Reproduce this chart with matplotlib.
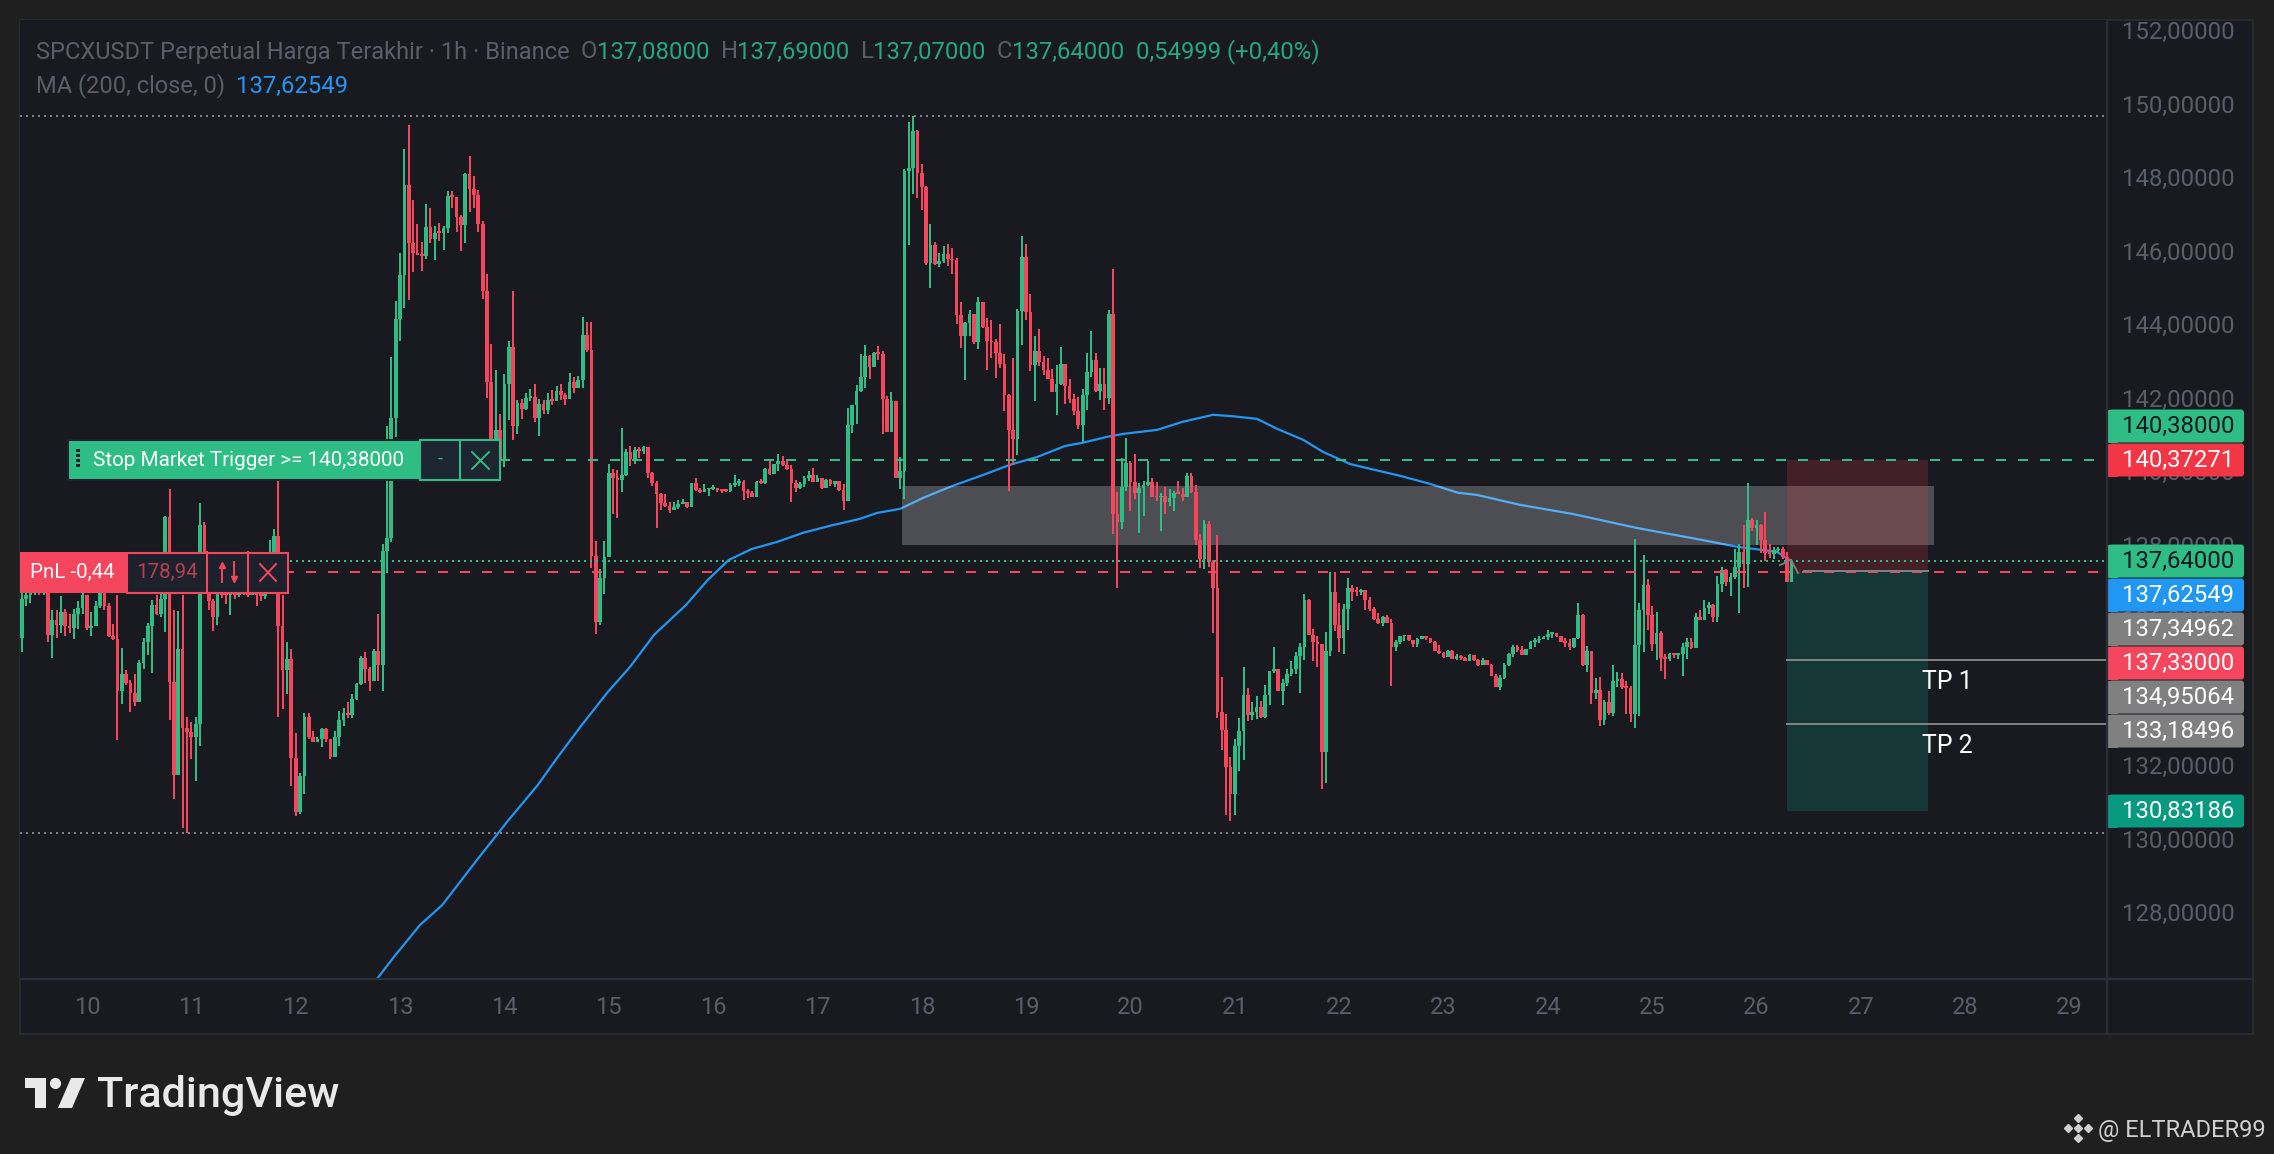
import matplotlib
matplotlib.use("Agg")
import matplotlib.pyplot as plt
import matplotlib.transforms as mtrans
import numpy as np
from matplotlib.patches import FancyBboxPatch, Polygon, Rectangle

plt.rcParams['font.family'] = ['Roboto', 'DejaVu Sans']

# hourly candles, one row per 24 hours, first candle is day 9 at 09:00
first_open = 135.55
closes = [
    136.6, 136.7, 136.8, 136.8, 136.75, 136.75, 135.62, 136.03, 135.88, 136.25, 135.85, 135.8, 136.2, 136.35, 136.7, 135.8, 135.85, 136.4, 136.75, 136.4, 135.6, 135.5, 134.1, 134.56,
    134.3, 134.05, 133.8, 134.87, 135.44, 135.87, 136.43, 136.2, 136.6, 138.82, 134.35, 131.8, 135.24, 133.1, 132.98, 132.85, 133.2, 138.6, 137.0, 136.55, 136.1, 136.75, 136.72, 136.7,
    136.75, 136.72, 136.78, 136.75, 136.72, 136.75, 136.7, 136.68, 136.8, 137.2, 138.3, 135.87, 134.67, 134.97, 132.27, 130.8, 131.78, 133.38, 132.85, 132.72, 132.8, 133.05, 132.78, 132.3,
    132.85, 133.3, 133.5, 133.43, 133.87, 134.28, 134.98, 134.7, 134.38, 135.18, 134.8, 137.9, 138.27, 141.51, 144.23, 145.41, 147.86, 146.29, 146.0, 145.97, 145.93, 146.71, 146.4, 146.57,
    146.55, 146.7, 147.56, 147.53, 146.98, 146.77, 148.16, 147.75, 147.59, 146.8, 144.98, 142.51, 140.3, 141.2, 140.4, 142.46, 143.45, 141.3, 141.92, 141.76, 142.06, 142.1, 141.53, 141.9,
    141.74, 142.01, 141.98, 142.27, 142.14, 142.05, 142.51, 142.35, 142.55, 143.78, 143.37, 137.78, 135.98, 137.18, 137.75, 140.02, 139.88, 139.83, 139.96, 140.6, 140.4, 140.65, 140.63, 140.74,
    140.04, 139.76, 139.46, 139.2, 139.12, 139.02, 139.1, 139.18, 139.25, 139.1, 139.75, 139.56, 139.5, 139.58, 139.6, 139.63, 139.57, 139.55, 139.53, 139.7, 139.75, 139.78, 139.54, 139.48,
    139.38, 139.79, 139.75, 140.14, 139.99, 140.26, 140.35, 140.24, 140.13, 139.76, 139.63, 139.72, 139.88, 139.98, 139.79, 139.88, 139.63, 139.83, 139.72, 139.8, 139.57, 139.26, 141.32, 141.88,
    142.26, 142.63, 143.21, 142.9, 143.3, 143.27, 142.05, 141.15, 141.98, 139.9, 140.08, 148.25, 148.32, 149.32, 148.18, 147.8, 145.74, 146.24, 145.72, 145.8, 145.99, 145.85, 145.81, 144.33,
    143.76, 144.1, 144.36, 143.58, 144.68, 143.99, 143.62, 143.58, 143.3, 143.0, 142.15, 141.2, 140.96, 144.44, 145.9, 144.41, 142.97, 143.34, 143.06, 142.83, 142.59, 142.24, 142.45, 143.0,
    142.4, 142.04, 141.72, 141.33, 142.15, 142.77, 143.1, 142.26, 142.45, 142.08, 144.36, 138.91, 138.7, 139.64, 140.31, 139.79, 139.48, 139.63, 139.71, 139.79, 139.38, 139.36, 139.4, 139.23,
    139.35, 139.48, 139.46, 139.36, 139.94, 139.5, 138.21, 137.7, 138.65, 137.6, 136.9, 133.53, 133.04, 132.04, 131.28, 132.59, 133.01, 133.98, 133.44, 133.53, 133.67, 133.39, 133.98, 134.63,
    134.68, 134.1, 134.3, 134.57, 134.7, 135.05, 135.29, 136.57, 135.63, 135.44, 135.36, 132.44, 135.18, 136.79, 135.9, 135.54, 136.33, 136.89, 136.8, 136.78, 136.84, 136.58, 136.33, 136.05,
    135.94, 136.12, 135.95, 135.3, 135.42, 135.58, 135.63, 135.47, 135.37, 135.52, 135.6, 135.53, 135.44, 135.18, 135.12, 135.03, 135.18, 134.97, 135.06, 135.0, 134.92, 135.07, 134.93, 134.79,
    134.94, 134.8, 134.51, 134.21, 134.46, 134.8, 135.1, 135.3, 135.2, 135.07, 135.25, 135.44, 135.47, 135.51, 135.57, 135.65, 135.67, 135.6, 135.44, 135.4, 135.3, 135.53, 136.16, 134.79,
    135.17, 134.05, 134.12, 133.3, 133.79, 133.5, 134.37, 134.41, 134.2, 134.17, 133.47, 135.35, 136.3, 136.98, 136.16, 135.37, 135.68, 134.98, 134.96, 135.09, 135.07, 135.11, 135.28, 135.44,
    135.27, 136.1, 136.03, 136.36, 136.43, 136.1, 137.0, 137.39, 137.05, 137.2, 137.48, 137.87, 137.55, 138.75, 138.54, 138.62, 138.2, 137.85, 137.82, 137.92, 137.97, 137.75, 137.07, 137.64,
]
highs = [
    137.0, 137.0, 137.0, 137.0, 137.0, 137.0, 136.8, 136.3, 136.3, 136.68, 136.33, 136.2, 136.33, 136.55, 136.8, 136.7, 136.25, 136.55, 136.8, 136.8, 136.5, 135.92, 136.7, 135.27,
    134.67, 134.4, 134.57, 134.93, 135.53, 135.95, 136.57, 136.7, 136.75, 138.85, 139.6, 136.3, 136.27, 136.7, 133.4, 133.25, 133.4, 139.2, 138.7, 137.1, 136.6, 136.9, 136.9, 137.0,
    137.0, 137.0, 137.0, 137.0, 137.0, 137.0, 137.0, 137.2, 137.4, 138.2, 138.5, 140.0, 136.7, 135.42, 135.24, 132.95, 131.85, 133.5, 133.5, 133.0, 132.85, 133.1, 133.1, 132.8,
    133.0, 133.55, 133.62, 133.8, 134.0, 134.3, 135.05, 135.15, 134.76, 135.24, 136.2, 138.1, 141.3, 143.19, 144.7, 146.0, 148.84, 149.49, 147.45, 146.8, 146.31, 147.34, 147.25, 146.75,
    146.82, 146.74, 147.7, 147.7, 147.53, 147.06, 148.2, 148.65, 148.1, 147.72, 146.88, 145.44, 143.55, 142.83, 141.63, 142.73, 143.62, 144.98, 142.0, 142.03, 142.2, 142.3, 142.46, 142.03,
    142.02, 142.2, 142.28, 142.39, 142.45, 142.2, 142.75, 142.65, 142.66, 144.28, 144.13, 144.14, 138.17, 137.41, 138.17, 140.26, 140.13, 140.1, 141.24, 140.68, 140.76, 140.74, 140.74, 140.76,
    140.74, 140.06, 139.8, 139.49, 139.45, 139.25, 139.24, 139.28, 139.32, 139.25, 139.76, 139.88, 139.62, 139.73, 139.62, 139.69, 139.63, 139.6, 139.6, 139.75, 139.97, 139.85, 139.83, 139.58,
    139.54, 139.82, 139.86, 140.17, 140.36, 140.27, 140.55, 140.49, 140.38, 140.24, 139.84, 139.77, 139.95, 140.09, 140.17, 139.97, 139.9, 139.85, 139.85, 139.82, 139.8, 139.73, 141.79, 141.88,
    142.42, 143.26, 143.51, 143.25, 143.31, 143.48, 143.35, 142.12, 142.22, 141.98, 140.45, 148.3, 149.57, 149.74, 149.36, 148.44, 147.84, 146.8, 146.3, 146.0, 146.2, 146.26, 146.15, 145.87,
    144.68, 144.13, 144.47, 144.36, 144.82, 144.68, 144.24, 144.2, 143.67, 144.08, 143.27, 142.18, 143.16, 144.49, 146.48, 146.26, 144.9, 143.76, 143.95, 143.2, 143.16, 142.85, 142.97, 143.45,
    143.0, 142.59, 142.18, 142.09, 142.3, 143.3, 143.9, 143.3, 142.88, 142.88, 144.47, 145.57, 139.5, 140.44, 140.97, 140.34, 140.54, 139.76, 139.81, 140.36, 139.89, 139.79, 139.48, 139.64,
    139.6, 139.53, 139.82, 139.63, 140.03, 140.03, 139.7, 138.38, 138.75, 138.72, 137.67, 138.33, 134.48, 133.48, 132.31, 132.79, 133.37, 134.75, 134.18, 133.8, 133.95, 133.83, 134.27, 134.64,
    135.29, 134.7, 134.42, 134.7, 134.9, 135.15, 135.41, 136.73, 136.61, 135.78, 135.59, 135.38, 135.71, 137.32, 137.34, 136.49, 136.47, 137.16, 136.98, 136.93, 136.87, 136.84, 136.66, 136.39,
    136.21, 136.14, 136.15, 136.05, 135.48, 135.58, 135.63, 135.63, 135.49, 135.53, 135.6, 135.6, 135.53, 135.45, 135.34, 135.16, 135.2, 135.21, 135.1, 135.07, 135.02, 135.1, 135.07, 134.96,
    134.99, 134.95, 134.83, 134.56, 134.53, 134.85, 135.12, 135.35, 135.35, 135.32, 135.25, 135.45, 135.53, 135.58, 135.6, 135.76, 135.7, 135.67, 135.6, 135.55, 135.51, 135.54, 136.48, 136.2,
    135.32, 135.17, 134.44, 134.48, 133.84, 134.1, 134.8, 134.62, 134.58, 134.38, 134.23, 138.23, 136.48, 137.8, 137.14, 136.4, 136.25, 135.74, 135.09, 135.14, 135.1, 135.13, 135.41, 135.53,
    135.53, 136.21, 136.3, 136.57, 136.52, 136.46, 137.22, 137.48, 137.41, 137.3, 137.95, 138.09, 138.61, 139.75, 138.8, 138.75, 138.65, 138.96, 138.1, 138.0, 138.0, 138.0, 137.87, 137.69,
]
lows = [
    135.15, 136.4, 136.5, 136.7, 136.7, 136.7, 135.42, 135.0, 135.55, 135.67, 135.6, 135.67, 135.5, 135.78, 136.2, 135.75, 135.6, 135.85, 136.35, 136.3, 135.57, 135.48, 132.75, 133.75,
    134.27, 133.53, 133.7, 133.8, 134.7, 135.07, 134.58, 136.15, 136.1, 135.7, 133.3, 131.15, 131.8, 130.36, 130.24, 132.25, 131.65, 132.6, 136.9, 136.3, 135.74, 135.88, 136.62, 136.45,
    136.15, 136.6, 136.65, 136.7, 136.65, 136.7, 136.4, 136.55, 136.6, 136.9, 137.0, 133.4, 133.6, 134.0, 131.5, 130.7, 130.75, 131.3, 132.8, 132.7, 132.7, 132.58, 132.7, 132.25,
    132.3, 132.6, 133.13, 133.35, 133.35, 133.85, 134.25, 134.3, 134.1, 134.38, 134.38, 134.1, 137.3, 138.16, 141.0, 143.63, 144.52, 144.73, 145.5, 145.96, 145.53, 145.86, 146.29, 145.82,
    146.35, 146.09, 146.56, 147.25, 146.58, 146.07, 146.28, 147.13, 147.25, 146.58, 144.76, 142.07, 139.9, 140.2, 140.2, 140.2, 141.47, 140.92, 141.09, 141.5, 141.74, 141.98, 141.42, 141.04,
    141.63, 141.63, 141.87, 141.98, 142.0, 141.87, 142.04, 142.19, 142.34, 142.33, 143.32, 137.45, 135.64, 135.89, 136.73, 137.73, 138.91, 138.8, 139.51, 139.94, 140.23, 140.27, 140.43, 140.54,
    139.88, 139.68, 138.54, 139.02, 139.09, 138.93, 139.02, 139.05, 139.18, 139.07, 139.1, 139.55, 139.49, 139.5, 139.41, 139.56, 139.5, 139.49, 139.5, 139.5, 139.65, 139.68, 139.29, 139.34,
    139.37, 139.37, 139.73, 139.73, 139.97, 139.99, 140.08, 140.22, 140.12, 139.25, 139.52, 139.6, 139.65, 139.82, 139.79, 139.79, 139.59, 139.63, 139.66, 139.65, 139.55, 139.02, 139.26, 141.12,
    141.35, 142.24, 142.35, 142.58, 142.9, 143.1, 141.09, 141.14, 141.15, 139.88, 139.59, 139.32, 146.23, 147.62, 147.51, 147.19, 145.69, 145.07, 145.69, 145.64, 145.75, 145.66, 145.44, 144.08,
    143.43, 142.56, 143.76, 143.54, 143.4, 143.97, 142.83, 143.16, 142.6, 142.89, 141.72, 139.55, 140.25, 140.52, 143.51, 144.19, 142.79, 141.99, 142.94, 142.7, 142.59, 142.22, 141.61, 142.43,
    141.9, 141.92, 141.61, 141.23, 140.87, 141.74, 142.65, 142.22, 142.0, 141.74, 141.91, 138.36, 136.9, 138.51, 139.54, 138.98, 139.33, 138.4, 138.86, 139.67, 139.38, 139.26, 138.46, 138.91,
    139.13, 139.0, 139.46, 139.26, 139.36, 139.48, 138.08, 137.44, 137.42, 137.47, 135.68, 133.35, 132.49, 130.71, 130.56, 130.71, 131.93, 132.21, 133.27, 133.3, 133.33, 133.37, 133.37, 133.72,
    134.59, 134.09, 133.72, 134.23, 134.5, 134.57, 134.05, 134.95, 135.62, 134.9, 134.75, 131.43, 131.6, 135.05, 135.74, 135.16, 135.1, 135.76, 136.55, 136.68, 136.71, 136.3, 136.26, 136.03,
    135.92, 135.87, 135.94, 134.23, 135.17, 135.37, 135.45, 135.45, 135.3, 135.3, 135.5, 135.48, 135.4, 135.17, 135.1, 135.0, 135.02, 134.96, 134.95, 134.94, 134.9, 134.91, 134.92, 134.78,
    134.79, 134.79, 134.5, 134.2, 134.11, 134.42, 134.78, 135.03, 135.16, 135.07, 135.07, 135.24, 135.3, 135.39, 135.5, 135.48, 135.53, 135.57, 135.43, 135.3, 135.21, 135.27, 135.5, 134.78,
    134.6, 133.74, 133.88, 133.15, 133.17, 133.44, 133.42, 134.2, 134.14, 133.47, 133.26, 133.1, 133.42, 135.16, 135.76, 135.17, 134.94, 134.64, 134.42, 134.9, 134.98, 134.97, 134.5, 134.97,
    135.25, 135.3, 136.02, 136.03, 136.2, 135.98, 135.98, 136.8, 136.95, 136.68, 137.13, 136.23, 136.91, 136.93, 138.45, 138.07, 137.86, 137.64, 137.72, 137.7, 137.85, 137.7, 137.06, 137.07,
]

# moving average read at some hours (hours counted from first candle)
ma_hours = [81.7, 85.6, 91.6, 96.7, 104.7, 112, 118.7, 123.1, 128.8, 134.8, 139.9, 145.4, 152.8, 157.8, 162.6, 167.9, 173.7, 179.7, 185.9, 192.8, 196.7, 202, 207.3, 213.5, 221, 227.3, 233.5, 239.9, 244, 249.6, 253.3, 261.1, 267, 274, 278.6, 284.1, 288.7, 294.7, 299.3, 305.5, 311.2, 317, 323.9, 330.3, 334.7, 344.6, 356.8, 371.5, 385.3, 394.5, 403.7, 407]
ma_values = [126.26, 126.86, 127.73, 128.27, 129.5, 130.59, 131.54, 132.27, 133.17, 134.07, 134.75, 135.62, 136.44, 137.12, 137.66, 137.96, 138.15, 138.4, 138.59, 138.78, 138.94, 139.05, 139.35, 139.65, 139.97, 140.25, 140.46, 140.76, 140.85, 141.01, 141.09, 141.2, 141.42, 141.61, 141.57, 141.5, 141.23, 140.93, 140.6, 140.27, 140.11, 139.95, 139.73, 139.49, 139.43, 139.16, 138.91, 138.53, 138.23, 138.02, 137.88, 137.63]

day_ticks = list(range(10, 30))
price_ticks = list(range(128, 153, 2))

stop_price = 140.38
entry_price = 137.33
last_price = 137.64
top_dotted = 149.74
bottom_dotted = 130.23
zone_low, zone_high = 138.07, 139.68
zone_days = (17.81, 27.70)
pos_days = (26.29, 27.64)
tp_prices = [134.95064, 133.18496]
tp_names = ['TP 1', 'TP 2']
target_price = 130.83186

tag_labels = ['140,38000', '140,37271', '137,64000', '137,62549', '137,34962', '137,33000', '134,95064', '133,18496', '130,83186']
tag_colors = ['#2ebd85', '#f23645', '#2ebd85', '#2196f3', '#808080', '#f6465d', '#808080', '#808080', '#089981']
tag_text = ['#131722', 'white', '#131722', 'white', 'white', 'white', 'white', 'white', 'white']
tag_y = [426, 460, 561, 595, 629, 663, 697, 731, 811]

W, H = 2274, 1154
GREEN = '#2ebd85'
RED = '#f6465d'
BLUE = '#2196f3'
GRAY_TXT = '#5a5e69'
PANEL = '#181a20'
OUTER = '#1f1f1f'
LINE = '#2a2e39'

fig = plt.figure(figsize=(W / 100, H / 100), dpi=100, facecolor=OUTER)
fig.patches.append(Rectangle((20 / W, 1 - 1034 / H), 2233 / W, 1014 / H, transform=fig.transFigure,
                             facecolor=PANEL, edgecolor='#2a2a2a', linewidth=1.5, zorder=-1))

ax = fig.add_axes([20 / W, 1 - 979 / H, 2087 / W, 959 / H], facecolor=PANEL)
ax.set_xlim(9.358, 29.358)
ax.set_ylim(126.258, 152.353)
for s in ax.spines.values():
    s.set_visible(False)

closes = np.array(closes)
highs = np.array(highs)
lows = np.array(lows)
opens = np.concatenate([[first_open], closes[:-1]])
days = 9.375 + np.arange(len(closes)) / 24
colors = [GREEN if c >= o else RED for o, c in zip(opens, closes)]

ax.plot(9.375 + np.array(ma_hours) / 24, ma_values, color=BLUE, lw=1.6, zorder=1)
ax.axhspan(zone_low, zone_high, xmin=(zone_days[0] - 9.358) / 20, xmax=(zone_days[1] - 9.358) / 20,
           facecolor='white', alpha=0.23, lw=0, zorder=2)
ax.fill_between(pos_days, entry_price, stop_price, color='#f23645', alpha=0.2, lw=0, zorder=2.2)
ax.fill_between(pos_days, target_price, entry_price, color='#0f7f6c', alpha=0.3, lw=0, zorder=2.2)

ax.vlines(days, lows, highs, colors=colors, lw=1.44, zorder=3)
body = np.maximum(np.abs(closes - opens), 0.05)
ax.bar(days, body, bottom=np.minimum(opens, closes), width=3.7 / 104.35, color=colors, lw=0, zorder=3.1)

dotted = (0, (1, 2))
dashed = (0, (5, 6))
ax.axhline(top_dotted, color='#808080', lw=1.44, ls=dotted, zorder=4)
ax.axhline(bottom_dotted, color='#808080', lw=1.44, ls=dotted, zorder=4)
ax.axhline(last_price, color=GREEN, lw=1.44, ls=dotted, zorder=4)
ax.axhline(entry_price, color=RED, lw=1.44, ls=dashed, zorder=4)
ax.axhline(stop_price, xmin=480 / 2087, color=GREEN, lw=1.44, ls=dashed, zorder=4)
ax.plot([26.45, pos_days[1]], [entry_price + 0.03] * 2, color='#808080', lw=1.44, zorder=4)
for p, name in zip(tp_prices, tp_names):
    ax.plot([pos_days[0], 29.358], [p, p], color='#808080', lw=1.44, zorder=4)
    ax.text(27.83, p - 0.6, name, color='white', fontsize=17.9, ha='center', va='center', zorder=5)

ax.yaxis.tick_right()
ax.set_yticks(price_ticks)
ax.set_yticklabels([f"{p:.5f}".replace('.', ',') for p in price_ticks])
ax.set_xticks(day_ticks)
ax.tick_params(axis='y', length=0, pad=10.8, labelsize=17.2, labelcolor=GRAY_TXT)
ax.tick_params(axis='x', length=0, pad=12.5, labelsize=17, labelcolor=GRAY_TXT)
up = mtrans.ScaledTranslation(0, 3 / 100, fig.dpi_scale_trans)
for lb in ax.get_yticklabels():
    lb.set_transform(lb.get_transform() + up)

# overlay in pixels for the widgets
ui = fig.add_axes([0, 0, 1, 1], zorder=5)
ui.set_xlim(0, W)
ui.set_ylim(H, 0)
ui.axis('off')
ui.patch.set_alpha(0)

ui.plot([20, 2253], [979, 979], color=LINE, lw=1.6)
ui.plot([2107, 2107], [20, 1034], color=LINE, lw=1.6)

# last price gray arrow marks
ui.plot([1780, 1787], [565, 562], color='#808080', lw=1.3)
ui.plot([1791, 1798], [560, 573], color='#808080', lw=1.3)

for lab, col, tc, y in zip(tag_labels, tag_colors, tag_text, tag_y):
    ui.add_patch(FancyBboxPatch((2109, y - 16.5), 135, 33, boxstyle='round,pad=0,rounding_size=3', fc=col, ec='none'))
    ui.add_patch(Rectangle((2108, y - 16.5), 10, 33, fc=col, ec='none'))
    ui.text(2178, y, lab, color=tc, fontsize=17.2, ha='center', va='center')

# header
hdr_y = 52
ui.text(36, hdr_y, 'SPCXUSDT Perpetual Harga Terakhir · 1h · Binance', color=GRAY_TXT, fontsize=17, va='center')
hdr_green = '#26a77f'
for x, t, c in [(581, 'O', GRAY_TXT), (597, '137,08000', hdr_green), (721, 'H', GRAY_TXT), (737, '137,69000', hdr_green),
                (861, 'L', GRAY_TXT), (873, '137,07000', hdr_green), (997, 'C', GRAY_TXT), (1012, '137,64000', hdr_green),
                (1136, '0,54999 (+0,40%)', hdr_green)]:
    ui.text(x, hdr_y, t, color=c, fontsize=17.2, va='center')
ui.text(36, 86, 'MA (200, close, 0)', color=GRAY_TXT, fontsize=17, va='center')
ui.text(236, 86, '137,62549', color=BLUE, fontsize=17.2, va='center')

# stop order widget
ui.add_patch(Rectangle((67, 439), 434, 42, fc='#1e222d', ec='none'))
ui.add_patch(Rectangle((69, 441), 350, 38, fc=GREEN, ec='none'))
ui.add_patch(Rectangle((420, 440), 80, 40, fc='#1c2530', ec=GREEN, lw=1.5))
ui.plot([460, 460], [440, 480], color=GREEN, lw=1.5)
for gy in [450, 455, 460, 465]:
    ui.add_patch(Rectangle((76, gy - 1), 4, 3, fc='#1e222d', ec='none'))
ui.text(93, 460, 'Stop Market Trigger >= 140,38000', color='white', fontsize=14.9, va='center')
ui.text(440, 459, '-', color=GREEN, fontsize=13, ha='center', va='center')
ui.plot([472, 489], [452, 469], color=GREEN, lw=1.4)
ui.plot([472, 489], [469, 452], color=GREEN, lw=1.4)

# pnl widget
ui.add_patch(Rectangle((20, 552), 107, 41, fc=RED, ec='none'))
ui.add_patch(Rectangle((127, 552.5), 161, 40, fc='#1c212c', ec=RED, lw=1.5))
ui.plot([207, 207], [552, 593], color=RED, lw=1.5)
ui.plot([248, 248], [552, 593], color=RED, lw=1.5)
ui.text(30, 572, 'PnL -0,44', color='white', fontsize=14.8, va='center')
ui.text(167, 572, '178,94', color='#b5404f', fontsize=14.8, ha='center', va='center')
ui.plot([222, 222], [564, 582], color=RED, lw=1.4)
ui.plot([222], [565], marker='^', ms=5, color=RED)
ui.plot([234, 234], [562, 580], color=RED, lw=1.4)
ui.plot([234], [579], marker='v', ms=5, color=RED)
ui.plot([260, 276], [564, 581], color=RED, lw=1.4)
ui.plot([260, 276], [581, 564], color=RED, lw=1.4)

# footer logo
logo = '#e9e9e9'
ui.add_patch(Polygon([(25, 1078), (46, 1078), (46, 1108), (35, 1108), (35, 1088), (25, 1088)], fc=logo, ec='none'))
ui.plot([55], [1083], marker='o', ms=7, color=logo)
ui.add_patch(Polygon([(71, 1078), (85, 1078), (72, 1108), (58, 1108)], fc=logo, ec='none'))
ui.text(97, 1095, 'TradingView', color=logo, fontsize=31.1, fontweight='medium', va='center')

# watermark
ui.plot([2078, 2078, 2068, 2088, 2078], [1118, 1138, 1128, 1128, 1128], ls='none', marker='D', ms=4.5, color='#d0d0d0')
ui.text(2098, 1130, '@ ELTRADER99', color='#d0d0d0', fontsize=17, va='center')

plt.savefig('out.png', dpi=100, facecolor=OUTER)
